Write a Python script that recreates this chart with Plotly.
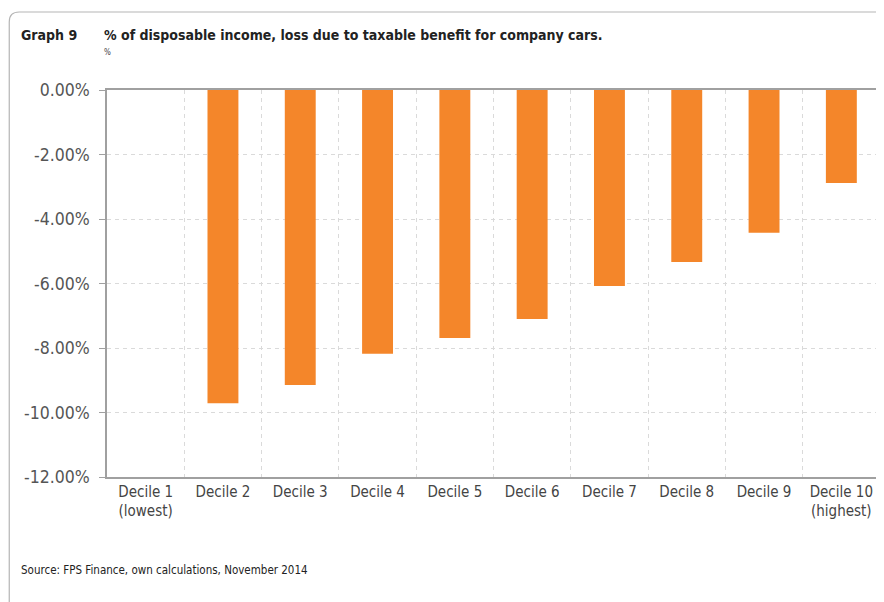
import plotly.graph_objects as go

categories = ["Decile 1<br>(lowest)", "Decile 2", "Decile 3", "Decile 4", "Decile 5",
              "Decile 6", "Decile 7", "Decile 8", "Decile 9", "Decile 10<br>(highest)"]
values = [0.0, -9.71, -9.15, -8.18, -7.69, -7.10, -6.08, -5.33, -4.43, -2.88]
y_ticks = [0, -2, -4, -6, -8, -10, -12]

FONT = "DejaVu Sans Condensed"
fig = go.Figure(go.Bar(x=categories, y=values, width=0.4,
                       marker=dict(color="#F4862A", line=dict(width=0))))

# page body has an 8px margin; work in page coords and convert
OFF = 8
W, H = 876, 594
L, R, T, B = 107 - OFF, 2, 90 - OFF, 125
pw, ph = W - L - R, H - T - B

def px(x):
    return (x - OFF - L) / pw

def py(y):
    return (H - B - (y - OFF)) / ph

fig.update_layout(
    width=W, height=H, margin=dict(l=L, r=R, t=T, b=B),
    paper_bgcolor="white", plot_bgcolor="white", showlegend=False,
    font=dict(family=FONT, color="#444"),
    xaxis=dict(showline=True, linecolor="#a0a0a0", linewidth=1.5, mirror=True,
               showgrid=True, gridcolor="#dadada", griddash="4px,4px", gridwidth=1,
               tickson="boundaries", ticks="", tickfont=dict(size=15, color="#444"),
               fixedrange=True),
    yaxis=dict(range=[-12, 0], tickvals=y_ticks,
               ticktext=[f"{v:.2f}%" for v in y_ticks],
               showline=True, linecolor="#a0a0a0", linewidth=1.5, mirror=True,
               showgrid=True, gridcolor="#dadada", griddash="4px,4px", gridwidth=1,
               ticks="outside", ticklen=6, tickcolor="#a0a0a0",
               ticklabelstandoff=6, tickfont=dict(size=17.5, color="#555"),
               zeroline=False),
)

# outer frame with rounded top-left corner
x0, y0 = px(9), py(12)
x1, y1 = px(900), py(620)
rx, ry = 10 / pw, 10 / ph
fig.add_shape(type="path", xref="paper", yref="paper",
              path=f"M {x0} {y1} L {x0} {y0 - ry} Q {x0} {y0} {x0 + rx} {y0} L {x1} {y0}",
              line=dict(color="#b5b5b5", width=1.2), layer="below")

fig.add_annotation(xref="paper", yref="paper", x=px(19), y=py(35), xanchor="left", yanchor="middle",
                   text="<b>Graph 9</b>", showarrow=False, font=dict(size=14, color="#222", family=FONT))
fig.add_annotation(xref="paper", yref="paper", x=px(102), y=py(35), xanchor="left", yanchor="middle",
                   text="<b>% of disposable income, loss due to taxable benefit for company cars.</b>",
                   showarrow=False, font=dict(size=14, color="#222", family=FONT))
fig.add_annotation(xref="paper", yref="paper", x=px(102), y=py(53), xanchor="left", yanchor="middle",
                   text="%", showarrow=False, font=dict(size=8, color="#444", family=FONT))
fig.add_annotation(xref="paper", yref="paper", x=px(19), y=py(570), xanchor="left", yanchor="middle",
                   text="Source: FPS Finance, own calculations, November 2014",
                   showarrow=False, font=dict(size=11.5, color="#222", family=FONT))

fig.write_html("out.html")
